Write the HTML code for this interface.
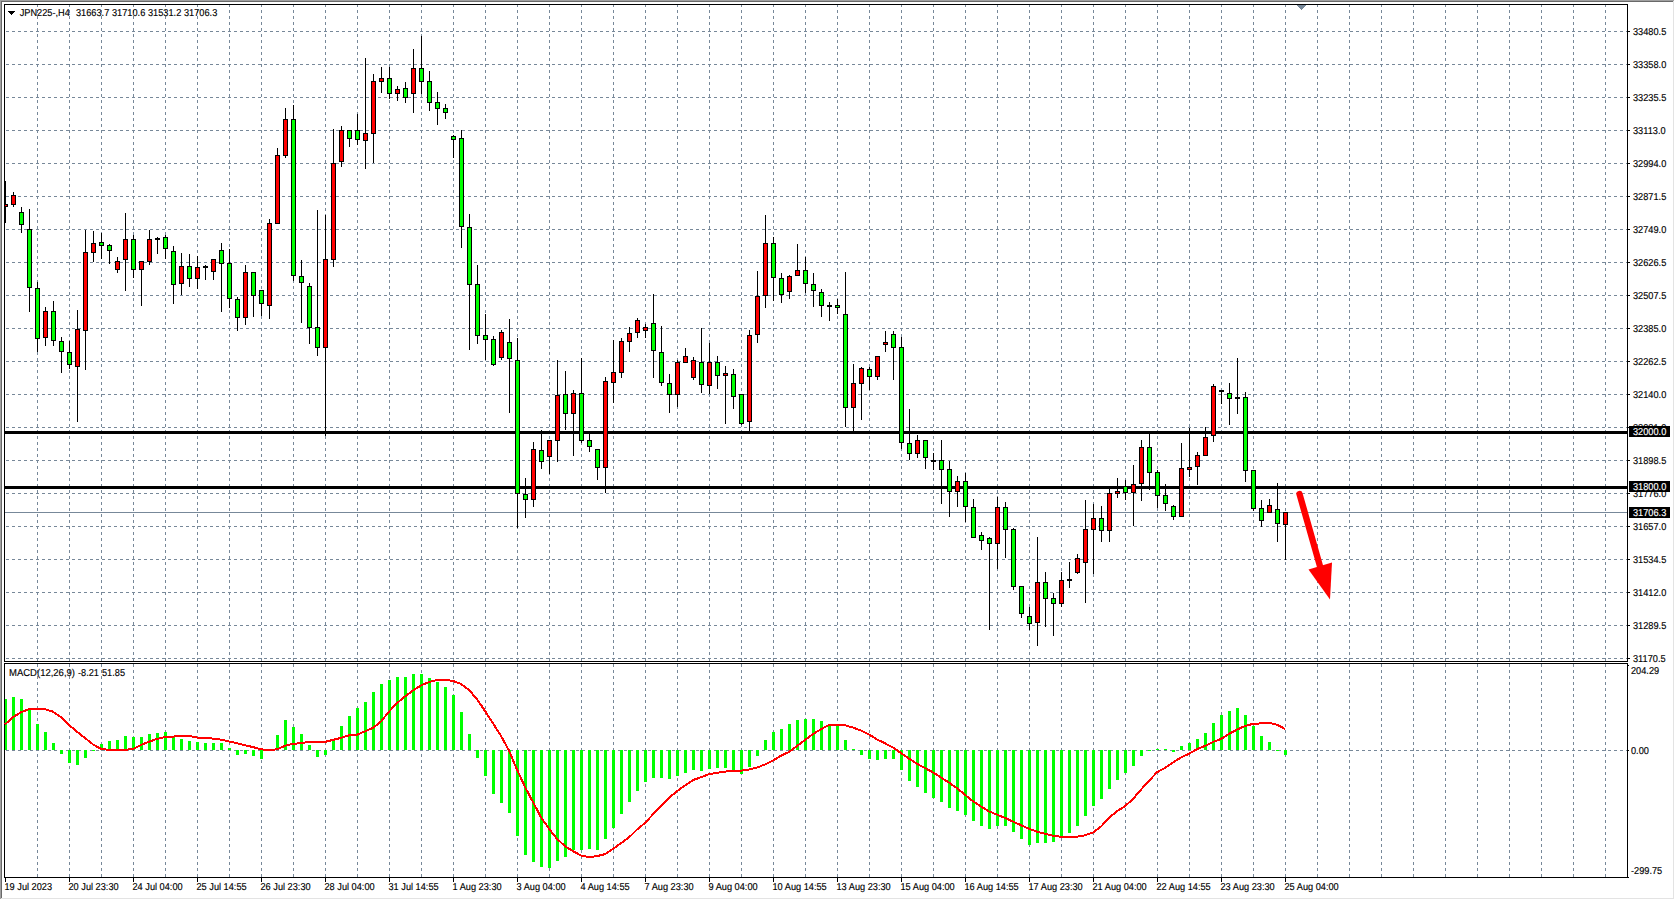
<!DOCTYPE html>
<html><head><meta charset="utf-8"><title>JPN225 H4</title>
<style>
html,body{margin:0;padding:0;background:#fff;width:1675px;height:900px;overflow:hidden}
svg{display:block}
.t text{font-family:"Liberation Sans",sans-serif;font-size:10px;fill:#000;stroke:#000;stroke-width:0.15px;white-space:pre;text-rendering:geometricPrecision}
.w text{fill:#fff;stroke:#fff}
</style></head><body>
<svg width="1675" height="900" viewBox="0 0 1675 900" shape-rendering="crispEdges">
<rect x="0" y="0" width="1675" height="900" fill="#fff"/>
<rect x="1673" y="1" width="1" height="898" fill="#e3e3e3"/>
<rect x="1" y="898" width="1673" height="1" fill="#e3e3e3"/>
<rect x="0" y="0" width="1674" height="1" fill="#a0a0a0"/>
<rect x="0" y="0" width="1" height="899" fill="#a0a0a0"/>
<rect x="1" y="1" width="1672" height="1" fill="#696969"/>
<rect x="1" y="1" width="1" height="897" fill="#696969"/>
<path d="M37.5 4V661M69.5 4V661M101.5 4V661M133.5 4V661M165.5 4V661M197.5 4V661M229.5 4V661M261.5 4V661M293.5 4V661M325.5 4V661M357.5 4V661M389.5 4V661M421.5 4V661M453.5 4V661M485.5 4V661M517.5 4V661M549.5 4V661M581.5 4V661M613.5 4V661M645.5 4V661M677.5 4V661M709.5 4V661M741.5 4V661M773.5 4V661M805.5 4V661M837.5 4V661M869.5 4V661M901.5 4V661M933.5 4V661M965.5 4V661M997.5 4V661M1029.5 4V661M1061.5 4V661M1093.5 4V661M1125.5 4V661M1157.5 4V661M1189.5 4V661M1221.5 4V661M1253.5 4V661M1285.5 4V661M1317.5 4V661M1349.5 4V661M1381.5 4V661M1413.5 4V661M1445.5 4V661M1477.5 4V661M1509.5 4V661M1541.5 4V661M1573.5 4V661M1605.5 4V661M6 31.5H1627M6 64.5H1627M6 97.5H1627M6 130.5H1627M6 163.5H1627M6 196.5H1627M6 229.5H1627M6 262.5H1627M6 295.5H1627M6 328.5H1627M6 361.5H1627M6 394.5H1627M6 427.5H1627M6 460.5H1627M6 493.5H1627M6 526.5H1627M6 559.5H1627M6 592.5H1627M6 625.5H1627M6 658.5H1627" stroke="#778899" stroke-width="1" stroke-dasharray="3 3" fill="none"/>
<path d="M37.5 664V877M69.5 664V877M101.5 664V877M133.5 664V877M165.5 664V877M197.5 664V877M229.5 664V877M261.5 664V877M293.5 664V877M325.5 664V877M357.5 664V877M389.5 664V877M421.5 664V877M453.5 664V877M485.5 664V877M517.5 664V877M549.5 664V877M581.5 664V877M613.5 664V877M645.5 664V877M677.5 664V877M709.5 664V877M741.5 664V877M773.5 664V877M805.5 664V877M837.5 664V877M869.5 664V877M901.5 664V877M933.5 664V877M965.5 664V877M997.5 664V877M1029.5 664V877M1061.5 664V877M1093.5 664V877M1125.5 664V877M1157.5 664V877M1189.5 664V877M1221.5 664V877M1253.5 664V877M1285.5 664V877M1317.5 664V877M1349.5 664V877M1381.5 664V877M1413.5 664V877M1445.5 664V877M1477.5 664V877M1509.5 664V877M1541.5 664V877M1573.5 664V877M1605.5 664V877M6 750.5H1627" stroke="#778899" stroke-width="1" stroke-dasharray="3 3" fill="none"/>
<path d="M4.5 4.5H1627.5V661.5H4.5Z M4.5 663.5H1627.5V877.5H4.5Z" stroke="#000" stroke-width="1" fill="none"/>
<rect x="5" y="431" width="1622" height="3" fill="#000"/>
<rect x="5" y="486" width="1622" height="3" fill="#000"/>
<rect x="5" y="512" width="1622" height="1" fill="#778899"/>
<path d="M5.5 181V223M13.5 192V207M21.5 207V233M29.5 209V312M37.5 282V352M45.5 307V346M53.5 301V346M61.5 337V373M69.5 341V369M77.5 310V422M85.5 230V370M93.5 231V262M101.5 233V259M109.5 244V264M117.5 257V273M125.5 213V291M133.5 235V278M141.5 261V306M149.5 230V265M157.5 237V254M165.5 235V259M173.5 246V304M181.5 253V295M189.5 254V287M197.5 256V289M205.5 265V280M213.5 259V280M221.5 243V312M229.5 249V308M237.5 297V331M245.5 265V325M253.5 272V317M261.5 290V316M269.5 219V319M277.5 148V224M285.5 108V158M293.5 105V281M301.5 260V323M309.5 283V344M317.5 210V356M325.5 215V436M333.5 129V267M341.5 126V167M349.5 130V147M357.5 114V145M365.5 58V169M373.5 74V163M381.5 67V93M389.5 67V99M397.5 86V101M405.5 82V103M413.5 49V113M421.5 36V94M429.5 71V111M437.5 92V125M445.5 104V119M453.5 135V158M461.5 130V248M469.5 214V350M477.5 265V344M485.5 314V360M493.5 336V366M501.5 330V360M509.5 319V413M517.5 338V528M525.5 478V518M533.5 442V507M541.5 430V469M549.5 440V474M557.5 360V462M565.5 371V430M573.5 390V456M581.5 358V443M589.5 434V452M597.5 449V480M605.5 377V493M613.5 340V403M621.5 338V378M629.5 327V352M637.5 318V338M645.5 324V338M653.5 294V378M661.5 326V386M669.5 374V413M677.5 360V407M685.5 348V362M693.5 357V380M701.5 328V393M709.5 343V394M717.5 356V389M725.5 366V424M733.5 369V409M741.5 394V425M749.5 330V431M757.5 271V343M765.5 215V308M773.5 237V301M781.5 273V303M789.5 275V299M797.5 244V276M805.5 257V293M813.5 273V307M821.5 289V317M829.5 302V321M837.5 299V314M845.5 272V427M853.5 364V431M861.5 367V420M869.5 367V390M877.5 356V380M885.5 331V352M893.5 331V380M901.5 337V449M909.5 409V460M917.5 435V458M925.5 440V469M933.5 453V470M941.5 440V504M949.5 461V517M957.5 476V507M965.5 473V522M973.5 499V537M981.5 532V550M989.5 537V630M997.5 497V569M1005.5 502V558M1013.5 528V590M1021.5 586V618M1029.5 607V630M1037.5 537V646M1045.5 572V627M1053.5 593V636M1061.5 572V607M1069.5 562V588M1077.5 554V574M1085.5 500V603M1093.5 504V574M1101.5 506V542M1109.5 489V542M1117.5 478V498M1125.5 480V500M1133.5 465V526M1141.5 440V501M1149.5 433V490M1157.5 470V508M1165.5 484V511M1173.5 505V520M1181.5 443V517M1189.5 428V477M1197.5 452V485M1205.5 427V456M1213.5 384V442M1221.5 390V404M1229.5 383V425M1237.5 358V414M1245.5 392V482M1253.5 470V511M1261.5 500V527M1269.5 499V513M1277.5 483V542M1285.5 512V560" stroke="#000" stroke-width="1" fill="none"/>
<defs><clipPath id="ca"><rect x="5" y="5" width="1622" height="656"/></clipPath></defs><g clip-path="url(#ca)"><rect x="3" y="204" width="5" height="3" fill="#000"/><rect x="4" y="205" width="3" height="1" fill="#ff0000"/><rect x="11" y="195" width="5" height="10" fill="#000"/><rect x="12" y="196" width="3" height="8" fill="#ff0000"/><rect x="19" y="212" width="5" height="13" fill="#000"/><rect x="20" y="213" width="3" height="11" fill="#00ff00"/><rect x="27" y="229" width="5" height="59" fill="#000"/><rect x="28" y="230" width="3" height="57" fill="#00ff00"/><rect x="35" y="288" width="5" height="51" fill="#000"/><rect x="36" y="289" width="3" height="49" fill="#00ff00"/><rect x="43" y="311" width="5" height="27" fill="#000"/><rect x="44" y="312" width="3" height="25" fill="#ff0000"/><rect x="51" y="311" width="5" height="30" fill="#000"/><rect x="52" y="312" width="3" height="28" fill="#00ff00"/><rect x="59" y="341" width="5" height="11" fill="#000"/><rect x="60" y="342" width="3" height="9" fill="#00ff00"/><rect x="67" y="352" width="5" height="13" fill="#000"/><rect x="68" y="353" width="3" height="11" fill="#00ff00"/><rect x="75" y="329" width="5" height="38" fill="#000"/><rect x="76" y="330" width="3" height="36" fill="#ff0000"/><rect x="83" y="252" width="5" height="79" fill="#000"/><rect x="84" y="253" width="3" height="77" fill="#ff0000"/><rect x="91" y="243" width="5" height="10" fill="#000"/><rect x="92" y="244" width="3" height="8" fill="#ff0000"/><rect x="99" y="242" width="5" height="4" fill="#000"/><rect x="100" y="243" width="3" height="2" fill="#00ff00"/><rect x="107" y="245" width="5" height="6" fill="#000"/><rect x="108" y="246" width="3" height="4" fill="#00ff00"/><rect x="115" y="261" width="5" height="9" fill="#000"/><rect x="116" y="262" width="3" height="7" fill="#ff0000"/><rect x="123" y="239" width="5" height="21" fill="#000"/><rect x="124" y="240" width="3" height="19" fill="#ff0000"/><rect x="131" y="239" width="5" height="31" fill="#000"/><rect x="132" y="240" width="3" height="29" fill="#00ff00"/><rect x="139" y="261" width="5" height="9" fill="#000"/><rect x="140" y="262" width="3" height="7" fill="#ff0000"/><rect x="147" y="239" width="5" height="23" fill="#000"/><rect x="148" y="240" width="3" height="21" fill="#ff0000"/><rect x="155" y="238" width="5" height="2" fill="#000"/><rect x="163" y="237" width="5" height="12" fill="#000"/><rect x="164" y="238" width="3" height="10" fill="#00ff00"/><rect x="171" y="251" width="5" height="34" fill="#000"/><rect x="172" y="252" width="3" height="32" fill="#00ff00"/><rect x="179" y="266" width="5" height="18" fill="#000"/><rect x="180" y="267" width="3" height="16" fill="#ff0000"/><rect x="187" y="266" width="5" height="13" fill="#000"/><rect x="188" y="267" width="3" height="11" fill="#00ff00"/><rect x="195" y="267" width="5" height="12" fill="#000"/><rect x="196" y="268" width="3" height="10" fill="#ff0000"/><rect x="203" y="266" width="5" height="2" fill="#000"/><rect x="211" y="259" width="5" height="13" fill="#000"/><rect x="212" y="260" width="3" height="11" fill="#ff0000"/><rect x="219" y="250" width="5" height="14" fill="#000"/><rect x="220" y="251" width="3" height="12" fill="#00ff00"/><rect x="227" y="263" width="5" height="36" fill="#000"/><rect x="228" y="264" width="3" height="34" fill="#00ff00"/><rect x="235" y="299" width="5" height="19" fill="#000"/><rect x="236" y="300" width="3" height="17" fill="#00ff00"/><rect x="243" y="272" width="5" height="46" fill="#000"/><rect x="244" y="273" width="3" height="44" fill="#ff0000"/><rect x="251" y="272" width="5" height="24" fill="#000"/><rect x="252" y="273" width="3" height="22" fill="#00ff00"/><rect x="259" y="290" width="5" height="14" fill="#000"/><rect x="260" y="291" width="3" height="12" fill="#00ff00"/><rect x="267" y="223" width="5" height="83" fill="#000"/><rect x="268" y="224" width="3" height="81" fill="#ff0000"/><rect x="275" y="155" width="5" height="69" fill="#000"/><rect x="276" y="156" width="3" height="67" fill="#ff0000"/><rect x="283" y="119" width="5" height="37" fill="#000"/><rect x="284" y="120" width="3" height="35" fill="#ff0000"/><rect x="291" y="119" width="5" height="157" fill="#000"/><rect x="292" y="120" width="3" height="155" fill="#00ff00"/><rect x="299" y="276" width="5" height="7" fill="#000"/><rect x="300" y="277" width="3" height="5" fill="#00ff00"/><rect x="307" y="286" width="5" height="42" fill="#000"/><rect x="308" y="287" width="3" height="40" fill="#00ff00"/><rect x="315" y="327" width="5" height="21" fill="#000"/><rect x="316" y="328" width="3" height="19" fill="#00ff00"/><rect x="323" y="259" width="5" height="89" fill="#000"/><rect x="324" y="260" width="3" height="87" fill="#ff0000"/><rect x="331" y="163" width="5" height="97" fill="#000"/><rect x="332" y="164" width="3" height="95" fill="#ff0000"/><rect x="339" y="130" width="5" height="32" fill="#000"/><rect x="340" y="131" width="3" height="30" fill="#ff0000"/><rect x="347" y="130" width="5" height="9" fill="#000"/><rect x="348" y="131" width="3" height="7" fill="#00ff00"/><rect x="355" y="130" width="5" height="10" fill="#000"/><rect x="356" y="131" width="3" height="8" fill="#00ff00"/><rect x="363" y="133" width="5" height="8" fill="#000"/><rect x="364" y="134" width="3" height="6" fill="#ff0000"/><rect x="371" y="81" width="5" height="53" fill="#000"/><rect x="372" y="82" width="3" height="51" fill="#ff0000"/><rect x="379" y="78" width="5" height="4" fill="#000"/><rect x="380" y="79" width="3" height="2" fill="#ff0000"/><rect x="387" y="78" width="5" height="16" fill="#000"/><rect x="388" y="79" width="3" height="14" fill="#00ff00"/><rect x="395" y="89" width="5" height="5" fill="#000"/><rect x="396" y="90" width="3" height="3" fill="#ff0000"/><rect x="403" y="88" width="5" height="10" fill="#000"/><rect x="404" y="89" width="3" height="8" fill="#00ff00"/><rect x="411" y="68" width="5" height="26" fill="#000"/><rect x="412" y="69" width="3" height="24" fill="#ff0000"/><rect x="419" y="68" width="5" height="14" fill="#000"/><rect x="420" y="69" width="3" height="12" fill="#00ff00"/><rect x="427" y="81" width="5" height="22" fill="#000"/><rect x="428" y="82" width="3" height="20" fill="#00ff00"/><rect x="435" y="102" width="5" height="7" fill="#000"/><rect x="436" y="103" width="3" height="5" fill="#00ff00"/><rect x="443" y="108" width="5" height="5" fill="#000"/><rect x="444" y="109" width="3" height="3" fill="#00ff00"/><rect x="451" y="136" width="5" height="4" fill="#000"/><rect x="452" y="137" width="3" height="2" fill="#00ff00"/><rect x="459" y="138" width="5" height="89" fill="#000"/><rect x="460" y="139" width="3" height="87" fill="#00ff00"/><rect x="467" y="227" width="5" height="58" fill="#000"/><rect x="468" y="228" width="3" height="56" fill="#00ff00"/><rect x="475" y="284" width="5" height="52" fill="#000"/><rect x="476" y="285" width="3" height="50" fill="#00ff00"/><rect x="483" y="335" width="5" height="5" fill="#000"/><rect x="484" y="336" width="3" height="3" fill="#00ff00"/><rect x="491" y="339" width="5" height="26" fill="#000"/><rect x="492" y="340" width="3" height="24" fill="#00ff00"/><rect x="499" y="332" width="5" height="26" fill="#000"/><rect x="500" y="333" width="3" height="24" fill="#ff0000"/><rect x="507" y="342" width="5" height="17" fill="#000"/><rect x="508" y="343" width="3" height="15" fill="#00ff00"/><rect x="515" y="360" width="5" height="134" fill="#000"/><rect x="516" y="361" width="3" height="132" fill="#00ff00"/><rect x="523" y="494" width="5" height="6" fill="#000"/><rect x="524" y="495" width="3" height="4" fill="#00ff00"/><rect x="531" y="449" width="5" height="51" fill="#000"/><rect x="532" y="450" width="3" height="49" fill="#ff0000"/><rect x="539" y="450" width="5" height="12" fill="#000"/><rect x="540" y="451" width="3" height="10" fill="#00ff00"/><rect x="547" y="440" width="5" height="17" fill="#000"/><rect x="548" y="441" width="3" height="15" fill="#ff0000"/><rect x="555" y="395" width="5" height="46" fill="#000"/><rect x="556" y="396" width="3" height="44" fill="#ff0000"/><rect x="563" y="394" width="5" height="20" fill="#000"/><rect x="564" y="395" width="3" height="18" fill="#00ff00"/><rect x="571" y="393" width="5" height="21" fill="#000"/><rect x="572" y="394" width="3" height="19" fill="#ff0000"/><rect x="579" y="393" width="5" height="48" fill="#000"/><rect x="580" y="394" width="3" height="46" fill="#00ff00"/><rect x="587" y="440" width="5" height="7" fill="#000"/><rect x="588" y="441" width="3" height="5" fill="#00ff00"/><rect x="595" y="449" width="5" height="19" fill="#000"/><rect x="596" y="450" width="3" height="17" fill="#00ff00"/><rect x="603" y="381" width="5" height="87" fill="#000"/><rect x="604" y="382" width="3" height="85" fill="#ff0000"/><rect x="611" y="372" width="5" height="11" fill="#000"/><rect x="612" y="373" width="3" height="9" fill="#ff0000"/><rect x="619" y="341" width="5" height="32" fill="#000"/><rect x="620" y="342" width="3" height="30" fill="#ff0000"/><rect x="627" y="333" width="5" height="9" fill="#000"/><rect x="628" y="334" width="3" height="7" fill="#ff0000"/><rect x="635" y="320" width="5" height="13" fill="#000"/><rect x="636" y="321" width="3" height="11" fill="#ff0000"/><rect x="643" y="327" width="5" height="4" fill="#000"/><rect x="644" y="328" width="3" height="2" fill="#ff0000"/><rect x="651" y="323" width="5" height="28" fill="#000"/><rect x="652" y="324" width="3" height="26" fill="#00ff00"/><rect x="659" y="352" width="5" height="31" fill="#000"/><rect x="660" y="353" width="3" height="29" fill="#00ff00"/><rect x="667" y="383" width="5" height="12" fill="#000"/><rect x="668" y="384" width="3" height="10" fill="#00ff00"/><rect x="675" y="362" width="5" height="33" fill="#000"/><rect x="676" y="363" width="3" height="31" fill="#ff0000"/><rect x="683" y="356" width="5" height="7" fill="#000"/><rect x="684" y="357" width="3" height="5" fill="#ff0000"/><rect x="691" y="360" width="5" height="18" fill="#000"/><rect x="692" y="361" width="3" height="16" fill="#ff0000"/><rect x="699" y="362" width="5" height="23" fill="#000"/><rect x="700" y="363" width="3" height="21" fill="#00ff00"/><rect x="707" y="362" width="5" height="24" fill="#000"/><rect x="708" y="363" width="3" height="22" fill="#ff0000"/><rect x="715" y="362" width="5" height="14" fill="#000"/><rect x="716" y="363" width="3" height="12" fill="#00ff00"/><rect x="723" y="373" width="5" height="3" fill="#000"/><rect x="724" y="374" width="3" height="1" fill="#ff0000"/><rect x="731" y="374" width="5" height="23" fill="#000"/><rect x="732" y="375" width="3" height="21" fill="#00ff00"/><rect x="739" y="394" width="5" height="30" fill="#000"/><rect x="740" y="395" width="3" height="28" fill="#00ff00"/><rect x="747" y="335" width="5" height="87" fill="#000"/><rect x="748" y="336" width="3" height="85" fill="#ff0000"/><rect x="755" y="296" width="5" height="39" fill="#000"/><rect x="756" y="297" width="3" height="37" fill="#ff0000"/><rect x="763" y="243" width="5" height="53" fill="#000"/><rect x="764" y="244" width="3" height="51" fill="#ff0000"/><rect x="771" y="243" width="5" height="35" fill="#000"/><rect x="772" y="244" width="3" height="33" fill="#00ff00"/><rect x="779" y="278" width="5" height="17" fill="#000"/><rect x="780" y="279" width="3" height="15" fill="#00ff00"/><rect x="787" y="276" width="5" height="16" fill="#000"/><rect x="788" y="277" width="3" height="14" fill="#ff0000"/><rect x="795" y="270" width="5" height="6" fill="#000"/><rect x="796" y="271" width="3" height="4" fill="#ff0000"/><rect x="803" y="270" width="5" height="14" fill="#000"/><rect x="804" y="271" width="3" height="12" fill="#00ff00"/><rect x="811" y="284" width="5" height="7" fill="#000"/><rect x="812" y="285" width="3" height="5" fill="#00ff00"/><rect x="819" y="292" width="5" height="14" fill="#000"/><rect x="820" y="293" width="3" height="12" fill="#00ff00"/><rect x="827" y="305" width="5" height="2" fill="#000"/><rect x="835" y="305" width="5" height="3" fill="#000"/><rect x="836" y="306" width="3" height="1" fill="#00ff00"/><rect x="843" y="314" width="5" height="94" fill="#000"/><rect x="844" y="315" width="3" height="92" fill="#00ff00"/><rect x="851" y="383" width="5" height="25" fill="#000"/><rect x="852" y="384" width="3" height="23" fill="#ff0000"/><rect x="859" y="368" width="5" height="16" fill="#000"/><rect x="860" y="369" width="3" height="14" fill="#ff0000"/><rect x="867" y="369" width="5" height="8" fill="#000"/><rect x="868" y="370" width="3" height="6" fill="#00ff00"/><rect x="875" y="356" width="5" height="21" fill="#000"/><rect x="876" y="357" width="3" height="19" fill="#ff0000"/><rect x="883" y="342" width="5" height="3" fill="#000"/><rect x="884" y="343" width="3" height="1" fill="#ff0000"/><rect x="891" y="334" width="5" height="14" fill="#000"/><rect x="892" y="335" width="3" height="12" fill="#00ff00"/><rect x="899" y="347" width="5" height="96" fill="#000"/><rect x="900" y="348" width="3" height="94" fill="#00ff00"/><rect x="907" y="443" width="5" height="11" fill="#000"/><rect x="908" y="444" width="3" height="9" fill="#00ff00"/><rect x="915" y="440" width="5" height="14" fill="#000"/><rect x="916" y="441" width="3" height="12" fill="#ff0000"/><rect x="923" y="440" width="5" height="18" fill="#000"/><rect x="924" y="441" width="3" height="16" fill="#00ff00"/><rect x="931" y="460" width="5" height="2" fill="#000"/><rect x="939" y="460" width="5" height="10" fill="#000"/><rect x="940" y="461" width="3" height="8" fill="#00ff00"/><rect x="947" y="469" width="5" height="23" fill="#000"/><rect x="948" y="470" width="3" height="21" fill="#00ff00"/><rect x="955" y="481" width="5" height="11" fill="#000"/><rect x="956" y="482" width="3" height="9" fill="#ff0000"/><rect x="963" y="481" width="5" height="26" fill="#000"/><rect x="964" y="482" width="3" height="24" fill="#00ff00"/><rect x="971" y="507" width="5" height="31" fill="#000"/><rect x="972" y="508" width="3" height="29" fill="#00ff00"/><rect x="979" y="535" width="5" height="6" fill="#000"/><rect x="980" y="536" width="3" height="4" fill="#00ff00"/><rect x="987" y="538" width="5" height="6" fill="#000"/><rect x="988" y="539" width="3" height="4" fill="#00ff00"/><rect x="995" y="507" width="5" height="37" fill="#000"/><rect x="996" y="508" width="3" height="35" fill="#ff0000"/><rect x="1003" y="507" width="5" height="23" fill="#000"/><rect x="1004" y="508" width="3" height="21" fill="#00ff00"/><rect x="1011" y="529" width="5" height="58" fill="#000"/><rect x="1012" y="530" width="3" height="56" fill="#00ff00"/><rect x="1019" y="586" width="5" height="28" fill="#000"/><rect x="1020" y="587" width="3" height="26" fill="#00ff00"/><rect x="1027" y="616" width="5" height="8" fill="#000"/><rect x="1028" y="617" width="3" height="6" fill="#00ff00"/><rect x="1035" y="582" width="5" height="41" fill="#000"/><rect x="1036" y="583" width="3" height="39" fill="#ff0000"/><rect x="1043" y="582" width="5" height="17" fill="#000"/><rect x="1044" y="583" width="3" height="15" fill="#00ff00"/><rect x="1051" y="598" width="5" height="6" fill="#000"/><rect x="1052" y="599" width="3" height="4" fill="#00ff00"/><rect x="1059" y="580" width="5" height="24" fill="#000"/><rect x="1060" y="581" width="3" height="22" fill="#ff0000"/><rect x="1067" y="579" width="5" height="2" fill="#000"/><rect x="1075" y="558" width="5" height="15" fill="#000"/><rect x="1076" y="559" width="3" height="13" fill="#ff0000"/><rect x="1083" y="529" width="5" height="34" fill="#000"/><rect x="1084" y="530" width="3" height="32" fill="#ff0000"/><rect x="1091" y="518" width="5" height="12" fill="#000"/><rect x="1092" y="519" width="3" height="10" fill="#ff0000"/><rect x="1099" y="518" width="5" height="13" fill="#000"/><rect x="1100" y="519" width="3" height="11" fill="#00ff00"/><rect x="1107" y="493" width="5" height="38" fill="#000"/><rect x="1108" y="494" width="3" height="36" fill="#ff0000"/><rect x="1115" y="491" width="5" height="3" fill="#000"/><rect x="1116" y="492" width="3" height="1" fill="#ff0000"/><rect x="1123" y="486" width="5" height="7" fill="#000"/><rect x="1124" y="487" width="3" height="5" fill="#00ff00"/><rect x="1131" y="484" width="5" height="9" fill="#000"/><rect x="1132" y="485" width="3" height="7" fill="#ff0000"/><rect x="1139" y="447" width="5" height="37" fill="#000"/><rect x="1140" y="448" width="3" height="35" fill="#ff0000"/><rect x="1147" y="447" width="5" height="26" fill="#000"/><rect x="1148" y="448" width="3" height="24" fill="#00ff00"/><rect x="1155" y="472" width="5" height="24" fill="#000"/><rect x="1156" y="473" width="3" height="22" fill="#00ff00"/><rect x="1163" y="495" width="5" height="9" fill="#000"/><rect x="1164" y="496" width="3" height="7" fill="#00ff00"/><rect x="1171" y="506" width="5" height="11" fill="#000"/><rect x="1172" y="507" width="3" height="9" fill="#00ff00"/><rect x="1179" y="468" width="5" height="49" fill="#000"/><rect x="1180" y="469" width="3" height="47" fill="#ff0000"/><rect x="1187" y="467" width="5" height="3" fill="#000"/><rect x="1188" y="468" width="3" height="1" fill="#ff0000"/><rect x="1195" y="455" width="5" height="12" fill="#000"/><rect x="1196" y="456" width="3" height="10" fill="#ff0000"/><rect x="1203" y="437" width="5" height="19" fill="#000"/><rect x="1204" y="438" width="3" height="17" fill="#ff0000"/><rect x="1211" y="386" width="5" height="50" fill="#000"/><rect x="1212" y="387" width="3" height="48" fill="#ff0000"/><rect x="1219" y="390" width="5" height="2" fill="#000"/><rect x="1227" y="393" width="5" height="6" fill="#000"/><rect x="1228" y="394" width="3" height="4" fill="#00ff00"/><rect x="1235" y="397" width="5" height="2" fill="#000"/><rect x="1243" y="397" width="5" height="74" fill="#000"/><rect x="1244" y="398" width="3" height="72" fill="#00ff00"/><rect x="1251" y="470" width="5" height="39" fill="#000"/><rect x="1252" y="471" width="3" height="37" fill="#00ff00"/><rect x="1259" y="508" width="5" height="13" fill="#000"/><rect x="1260" y="509" width="3" height="11" fill="#00ff00"/><rect x="1267" y="505" width="5" height="8" fill="#000"/><rect x="1268" y="506" width="3" height="6" fill="#ff0000"/><rect x="1275" y="509" width="5" height="15" fill="#000"/><rect x="1276" y="510" width="3" height="13" fill="#00ff00"/><rect x="1283" y="512" width="5" height="13" fill="#000"/><rect x="1284" y="513" width="3" height="11" fill="#ff0000"/></g>
<g shape-rendering="geometricPrecision"><line x1="1299.5" y1="494" x2="1320.5" y2="568" stroke="#ff0000" stroke-width="6.4" stroke-linecap="round"/><polygon points="1308.5,569.5 1332,562.5 1330,599.5" fill="#ff0000"/></g>
<rect x="5" y="699" width="2" height="51" fill="#00ff00"/><rect x="12" y="697" width="3" height="53" fill="#00ff00"/><rect x="20" y="699" width="3" height="51" fill="#00ff00"/><rect x="28" y="709" width="3" height="41" fill="#00ff00"/><rect x="36" y="724" width="3" height="26" fill="#00ff00"/><rect x="44" y="732" width="3" height="18" fill="#00ff00"/><rect x="52" y="743" width="3" height="7" fill="#00ff00"/><rect x="60" y="750" width="3" height="4" fill="#00ff00"/><rect x="68" y="750" width="3" height="13" fill="#00ff00"/><rect x="76" y="750" width="3" height="15" fill="#00ff00"/><rect x="84" y="750" width="3" height="8" fill="#00ff00"/><rect x="92" y="750" width="3" height="1" fill="#00ff00"/><rect x="100" y="744" width="3" height="6" fill="#00ff00"/><rect x="108" y="741" width="3" height="9" fill="#00ff00"/><rect x="116" y="740" width="3" height="10" fill="#00ff00"/><rect x="124" y="736" width="3" height="14" fill="#00ff00"/><rect x="132" y="737" width="3" height="13" fill="#00ff00"/><rect x="140" y="737" width="3" height="13" fill="#00ff00"/><rect x="148" y="734" width="3" height="16" fill="#00ff00"/><rect x="156" y="733" width="3" height="17" fill="#00ff00"/><rect x="164" y="732" width="3" height="18" fill="#00ff00"/><rect x="172" y="737" width="3" height="13" fill="#00ff00"/><rect x="180" y="739" width="3" height="11" fill="#00ff00"/><rect x="188" y="741" width="3" height="9" fill="#00ff00"/><rect x="196" y="742" width="3" height="8" fill="#00ff00"/><rect x="204" y="743" width="3" height="7" fill="#00ff00"/><rect x="212" y="743" width="3" height="7" fill="#00ff00"/><rect x="220" y="743" width="3" height="7" fill="#00ff00"/><rect x="228" y="748" width="3" height="2" fill="#00ff00"/><rect x="236" y="750" width="3" height="5" fill="#00ff00"/><rect x="244" y="750" width="3" height="4" fill="#00ff00"/><rect x="252" y="750" width="3" height="6" fill="#00ff00"/><rect x="260" y="750" width="3" height="9" fill="#00ff00"/><rect x="268" y="750" width="3" height="1" fill="#00ff00"/><rect x="276" y="735" width="3" height="15" fill="#00ff00"/><rect x="284" y="720" width="3" height="30" fill="#00ff00"/><rect x="292" y="727" width="3" height="23" fill="#00ff00"/><rect x="300" y="734" width="3" height="16" fill="#00ff00"/><rect x="308" y="745" width="3" height="5" fill="#00ff00"/><rect x="316" y="750" width="3" height="7" fill="#00ff00"/><rect x="324" y="750" width="3" height="5" fill="#00ff00"/><rect x="332" y="741" width="3" height="9" fill="#00ff00"/><rect x="340" y="726" width="3" height="24" fill="#00ff00"/><rect x="348" y="716" width="3" height="34" fill="#00ff00"/><rect x="356" y="708" width="3" height="42" fill="#00ff00"/><rect x="364" y="702" width="3" height="48" fill="#00ff00"/><rect x="372" y="692" width="3" height="58" fill="#00ff00"/><rect x="380" y="684" width="3" height="66" fill="#00ff00"/><rect x="388" y="680" width="3" height="70" fill="#00ff00"/><rect x="396" y="677" width="3" height="73" fill="#00ff00"/><rect x="404" y="677" width="3" height="73" fill="#00ff00"/><rect x="412" y="674" width="3" height="76" fill="#00ff00"/><rect x="420" y="674" width="3" height="76" fill="#00ff00"/><rect x="428" y="678" width="3" height="72" fill="#00ff00"/><rect x="436" y="682" width="3" height="68" fill="#00ff00"/><rect x="444" y="687" width="3" height="63" fill="#00ff00"/><rect x="452" y="695" width="3" height="55" fill="#00ff00"/><rect x="460" y="712" width="3" height="38" fill="#00ff00"/><rect x="468" y="734" width="3" height="16" fill="#00ff00"/><rect x="476" y="750" width="3" height="8" fill="#00ff00"/><rect x="484" y="750" width="3" height="26" fill="#00ff00"/><rect x="492" y="750" width="3" height="44" fill="#00ff00"/><rect x="500" y="750" width="3" height="53" fill="#00ff00"/><rect x="508" y="750" width="3" height="63" fill="#00ff00"/><rect x="516" y="750" width="3" height="86" fill="#00ff00"/><rect x="524" y="750" width="3" height="105" fill="#00ff00"/><rect x="532" y="750" width="3" height="112" fill="#00ff00"/><rect x="540" y="750" width="3" height="117" fill="#00ff00"/><rect x="548" y="750" width="3" height="118" fill="#00ff00"/><rect x="556" y="750" width="3" height="111" fill="#00ff00"/><rect x="564" y="750" width="3" height="107" fill="#00ff00"/><rect x="572" y="750" width="3" height="100" fill="#00ff00"/><rect x="580" y="750" width="3" height="100" fill="#00ff00"/><rect x="588" y="750" width="3" height="99" fill="#00ff00"/><rect x="596" y="750" width="3" height="100" fill="#00ff00"/><rect x="604" y="750" width="3" height="89" fill="#00ff00"/><rect x="612" y="750" width="3" height="78" fill="#00ff00"/><rect x="620" y="750" width="3" height="64" fill="#00ff00"/><rect x="628" y="750" width="3" height="52" fill="#00ff00"/><rect x="636" y="750" width="3" height="41" fill="#00ff00"/><rect x="644" y="750" width="3" height="32" fill="#00ff00"/><rect x="652" y="750" width="3" height="28" fill="#00ff00"/><rect x="660" y="750" width="3" height="28" fill="#00ff00"/><rect x="668" y="750" width="3" height="29" fill="#00ff00"/><rect x="676" y="750" width="3" height="26" fill="#00ff00"/><rect x="684" y="750" width="3" height="23" fill="#00ff00"/><rect x="692" y="750" width="3" height="20" fill="#00ff00"/><rect x="700" y="750" width="3" height="21" fill="#00ff00"/><rect x="708" y="750" width="3" height="19" fill="#00ff00"/><rect x="716" y="750" width="3" height="18" fill="#00ff00"/><rect x="724" y="750" width="3" height="18" fill="#00ff00"/><rect x="732" y="750" width="3" height="20" fill="#00ff00"/><rect x="740" y="750" width="3" height="24" fill="#00ff00"/><rect x="748" y="750" width="3" height="17" fill="#00ff00"/><rect x="756" y="750" width="3" height="6" fill="#00ff00"/><rect x="764" y="740" width="3" height="10" fill="#00ff00"/><rect x="772" y="732" width="3" height="18" fill="#00ff00"/><rect x="780" y="729" width="3" height="21" fill="#00ff00"/><rect x="788" y="724" width="3" height="26" fill="#00ff00"/><rect x="796" y="720" width="3" height="30" fill="#00ff00"/><rect x="804" y="719" width="3" height="31" fill="#00ff00"/><rect x="812" y="719" width="3" height="31" fill="#00ff00"/><rect x="820" y="721" width="3" height="29" fill="#00ff00"/><rect x="828" y="724" width="3" height="26" fill="#00ff00"/><rect x="836" y="725" width="3" height="25" fill="#00ff00"/><rect x="844" y="740" width="3" height="10" fill="#00ff00"/><rect x="852" y="749" width="3" height="1" fill="#00ff00"/><rect x="860" y="750" width="3" height="5" fill="#00ff00"/><rect x="868" y="750" width="3" height="9" fill="#00ff00"/><rect x="876" y="750" width="3" height="10" fill="#00ff00"/><rect x="884" y="750" width="3" height="9" fill="#00ff00"/><rect x="892" y="750" width="3" height="9" fill="#00ff00"/><rect x="900" y="750" width="3" height="20" fill="#00ff00"/><rect x="908" y="750" width="3" height="31" fill="#00ff00"/><rect x="916" y="750" width="3" height="37" fill="#00ff00"/><rect x="924" y="750" width="3" height="43" fill="#00ff00"/><rect x="932" y="750" width="3" height="48" fill="#00ff00"/><rect x="940" y="750" width="3" height="52" fill="#00ff00"/><rect x="948" y="750" width="3" height="58" fill="#00ff00"/><rect x="956" y="750" width="3" height="61" fill="#00ff00"/><rect x="964" y="750" width="3" height="65" fill="#00ff00"/><rect x="972" y="750" width="3" height="71" fill="#00ff00"/><rect x="980" y="750" width="3" height="76" fill="#00ff00"/><rect x="988" y="750" width="3" height="79" fill="#00ff00"/><rect x="996" y="750" width="3" height="76" fill="#00ff00"/><rect x="1004" y="750" width="3" height="76" fill="#00ff00"/><rect x="1012" y="750" width="3" height="82" fill="#00ff00"/><rect x="1020" y="750" width="3" height="89" fill="#00ff00"/><rect x="1028" y="750" width="3" height="95" fill="#00ff00"/><rect x="1036" y="750" width="3" height="93" fill="#00ff00"/><rect x="1044" y="750" width="3" height="93" fill="#00ff00"/><rect x="1052" y="750" width="3" height="92" fill="#00ff00"/><rect x="1060" y="750" width="3" height="87" fill="#00ff00"/><rect x="1068" y="750" width="3" height="83" fill="#00ff00"/><rect x="1076" y="750" width="3" height="76" fill="#00ff00"/><rect x="1084" y="750" width="3" height="66" fill="#00ff00"/><rect x="1092" y="750" width="3" height="56" fill="#00ff00"/><rect x="1100" y="750" width="3" height="49" fill="#00ff00"/><rect x="1108" y="750" width="3" height="39" fill="#00ff00"/><rect x="1116" y="750" width="3" height="30" fill="#00ff00"/><rect x="1124" y="750" width="3" height="23" fill="#00ff00"/><rect x="1132" y="750" width="3" height="16" fill="#00ff00"/><rect x="1140" y="750" width="3" height="6" fill="#00ff00"/><rect x="1148" y="750" width="3" height="1" fill="#00ff00"/><rect x="1156" y="749" width="3" height="1" fill="#00ff00"/><rect x="1164" y="749" width="3" height="1" fill="#00ff00"/><rect x="1172" y="750" width="3" height="2" fill="#00ff00"/><rect x="1180" y="746" width="3" height="4" fill="#00ff00"/><rect x="1188" y="743" width="3" height="7" fill="#00ff00"/><rect x="1196" y="739" width="3" height="11" fill="#00ff00"/><rect x="1204" y="733" width="3" height="17" fill="#00ff00"/><rect x="1212" y="723" width="3" height="27" fill="#00ff00"/><rect x="1220" y="715" width="3" height="35" fill="#00ff00"/><rect x="1228" y="711" width="3" height="39" fill="#00ff00"/><rect x="1236" y="708" width="3" height="42" fill="#00ff00"/><rect x="1244" y="715" width="3" height="35" fill="#00ff00"/><rect x="1252" y="726" width="3" height="24" fill="#00ff00"/><rect x="1260" y="736" width="3" height="14" fill="#00ff00"/><rect x="1268" y="742" width="3" height="8" fill="#00ff00"/><rect x="1276" y="750" width="3" height="1" fill="#00ff00"/><rect x="1284" y="750" width="3" height="5" fill="#00ff00"/>
<polyline points="5,724.4 13,717.2 21,712.2 29,709.1 37,708.7 45,709.2 53,711.7 61,717.2 69,725 77,731.7 85,738 93,744.4 101,748.9 109,749.8 117,750 125,749.8 133,748.9 141,745 149,741.7 157,738.9 165,737.1 173,736.6 181,735.7 189,736 197,737.5 205,737.9 213,738.6 221,739.6 229,741.5 237,743.2 245,745.2 253,747.1 261,749.4 269,749.8 277,749.4 285,745.8 293,743.8 301,743.2 309,741.9 317,741.9 325,741.9 333,739.9 341,737.9 349,735.3 357,734.7 365,731.4 373,727.8 381,721.5 389,711.6 397,703.1 405,696.5 413,690.6 421,685.4 429,682.1 437,680.1 445,679.8 453,681 461,684 469,690 477,699.1 485,711 493,723.4 501,735.9 509,750.6 517,769.6 525,786.9 533,802.1 541,817.2 549,828.8 557,838.9 565,846.1 573,851.2 581,855.5 589,857 597,856.2 605,854.1 613,849 621,843.2 629,837.4 637,829.5 645,823 653,814.3 661,805.7 669,797.7 677,791.2 685,785.4 693,780.1 701,777.2 709,774.2 717,772.9 725,771.6 733,770.9 741,770.7 749,769.6 757,767.6 765,764.4 773,760.4 781,755.8 789,751.9 797,746 805,740 813,734.1 821,729.2 829,725 837,724.7 845,725.2 853,727.6 861,730.5 869,734.4 877,739.4 885,743.3 893,747.6 901,753 909,758.7 917,763.8 925,768.1 933,772.4 941,777.5 949,782.6 957,788.3 965,794.8 973,801.3 981,806.4 989,811.4 997,814.6 1005,817.9 1013,821.6 1021,825.2 1029,828.8 1037,831.7 1045,833.8 1053,835.7 1061,836.7 1069,836.7 1077,836.7 1085,835.3 1093,832.4 1101,826.6 1109,817.7 1117,811.2 1125,806.2 1133,798.9 1141,789.6 1149,780.9 1157,772.2 1165,767.9 1173,762.4 1181,757.5 1189,753.7 1197,749.1 1205,745.9 1213,741.9 1221,739 1229,733.9 1237,729.6 1245,726 1253,723.8 1261,723.4 1269,722.8 1277,724.8 1285,728.9" stroke="#ff0000" stroke-width="2" fill="none" stroke-linejoin="round"/>
<path d="M8 11h7v1h-1v1h-1v1h-1v1h-1v-1h-1v-1h-1v-1h-1z" fill="#000"/>
<polygon points="1296.5,5 1306.5,5 1301.5,10" fill="#778899"/>
<path d="M1628 31.5H1630M1628 64.5H1630M1628 97.5H1630M1628 130.5H1630M1628 163.5H1630M1628 196.5H1630M1628 229.5H1630M1628 262.5H1630M1628 295.5H1630M1628 328.5H1630M1628 361.5H1630M1628 394.5H1630M1628 427.5H1630M1628 460.5H1630M1628 493.5H1630M1628 526.5H1630M1628 559.5H1630M1628 592.5H1630M1628 625.5H1630M1628 658.5H1630M1628 665.5H1629M1628 750.5H1629M1628 877.5H1629M5.5 878V882M69.5 878V882M133.5 878V882M197.5 878V882M261.5 878V882M325.5 878V882M389.5 878V882M453.5 878V882M517.5 878V882M581.5 878V882M645.5 878V882M709.5 878V882M773.5 878V882M837.5 878V882M901.5 878V882M965.5 878V882M1029.5 878V882M1093.5 878V882M1157.5 878V882M1221.5 878V882M1285.5 878V882" stroke="#000" stroke-width="1" fill="none"/>
<g class="t"><text transform="translate(1633 35) scale(0.92 1)">33480.5</text><text transform="translate(1633 68) scale(0.92 1)">33358.0</text><text transform="translate(1633 101) scale(0.92 1)">33235.5</text><text transform="translate(1633 134) scale(0.92 1)">33113.0</text><text transform="translate(1633 167) scale(0.92 1)">32994.0</text><text transform="translate(1633 200) scale(0.92 1)">32871.5</text><text transform="translate(1633 233) scale(0.92 1)">32749.0</text><text transform="translate(1633 266) scale(0.92 1)">32626.5</text><text transform="translate(1633 299) scale(0.92 1)">32507.5</text><text transform="translate(1633 332) scale(0.92 1)">32385.0</text><text transform="translate(1633 365) scale(0.92 1)">32262.5</text><text transform="translate(1633 398) scale(0.92 1)">32140.0</text><text transform="translate(1633 431) scale(0.92 1)">32021.0</text><text transform="translate(1633 464) scale(0.92 1)">31898.5</text><text transform="translate(1633 497) scale(0.92 1)">31776.0</text><text transform="translate(1633 530) scale(0.92 1)">31657.0</text><text transform="translate(1633 563) scale(0.92 1)">31534.5</text><text transform="translate(1633 596) scale(0.92 1)">31412.0</text><text transform="translate(1633 629) scale(0.92 1)">31289.5</text><text transform="translate(1633 662) scale(0.92 1)">31170.5</text><text transform="translate(1631 674) scale(0.92 1)">204.29</text><text transform="translate(1631 754) scale(0.92 1)">0.00</text><text transform="translate(1631 874) scale(0.92 1)">-299.75</text><text transform="translate(4.5 890) scale(0.92 1)">19 Jul 2023</text><text transform="translate(68.5 890) scale(0.92 1)">20 Jul 23:30</text><text transform="translate(132.5 890) scale(0.92 1)">24 Jul 04:00</text><text transform="translate(196.5 890) scale(0.92 1)">25 Jul 14:55</text><text transform="translate(260.5 890) scale(0.92 1)">26 Jul 23:30</text><text transform="translate(324.5 890) scale(0.92 1)">28 Jul 04:00</text><text transform="translate(388.5 890) scale(0.92 1)">31 Jul 14:55</text><text transform="translate(452.5 890) scale(0.92 1)">1 Aug 23:30</text><text transform="translate(516.5 890) scale(0.92 1)">3 Aug 04:00</text><text transform="translate(580.5 890) scale(0.92 1)">4 Aug 14:55</text><text transform="translate(644.5 890) scale(0.92 1)">7 Aug 23:30</text><text transform="translate(708.5 890) scale(0.92 1)">9 Aug 04:00</text><text transform="translate(772.5 890) scale(0.92 1)">10 Aug 14:55</text><text transform="translate(836.5 890) scale(0.92 1)">13 Aug 23:30</text><text transform="translate(900.5 890) scale(0.92 1)">15 Aug 04:00</text><text transform="translate(964.5 890) scale(0.92 1)">16 Aug 14:55</text><text transform="translate(1028.5 890) scale(0.92 1)">17 Aug 23:30</text><text transform="translate(1092.5 890) scale(0.92 1)">21 Aug 04:00</text><text transform="translate(1156.5 890) scale(0.92 1)">22 Aug 14:55</text><text transform="translate(1220.5 890) scale(0.92 1)">23 Aug 23:30</text><text transform="translate(1284.5 890) scale(0.92 1)">25 Aug 04:00</text></g>
<rect x="1629" y="426" width="41" height="11" fill="#000"/>
<rect x="1629" y="481" width="41" height="11" fill="#000"/>
<rect x="1629" y="507" width="41" height="11" fill="#000"/>
<g class="t w"><text transform="translate(1633 435) scale(0.92 1)">32000.0</text><text transform="translate(1633 490) scale(0.92 1)">31800.0</text><text transform="translate(1633 516) scale(0.92 1)">31706.3</text></g>
<g class="t"><text transform="translate(19.7 16) scale(0.92 1)">JPN225-,H4</text><text transform="translate(76 16) scale(0.92 1)">31663.7</text><text transform="translate(112 16) scale(0.92 1)">31710.6</text><text transform="translate(148 16) scale(0.92 1)">31531.2</text><text transform="translate(184 16) scale(0.92 1)">31706.3</text><text transform="translate(9 676) scale(0.95 1)">MACD(12,26,9)</text><text transform="translate(78 676) scale(0.92 1)">-8.21</text><text transform="translate(102 676) scale(0.92 1)">51.85</text></g>
</svg>
</body></html>
